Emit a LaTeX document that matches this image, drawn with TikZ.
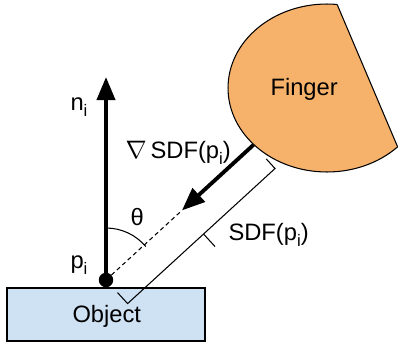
\documentclass[tikz,border=0pt]{standalone}
\usepackage{fontspec}
\setmainfont{Liberation Sans}
\usetikzlibrary{arrows.meta}
\definecolor{fingerorange}{HTML}{F6B26B}
\definecolor{objectblue}{HTML}{CFE2F3}
\newcommand{\idx}{\raisebox{-0.55ex}{\fontsize{9.5}{10}\selectfont i}}

\begin{document}
\begin{tikzpicture}[x=0.02cm, y=0.02cm, >={Triangle[length=0.46cm, width=0.36cm]},
    font=\fontsize{13.5}{16}\selectfont, line width=0.6pt,
    lbl/.style={inner sep=0pt, anchor=base west}]
        \useasboundingbox (0,0) rectangle (399,343);

        % OBJECT
        \draw[fill=objectblue] (7,2) rectangle (205,55);
        \node[lbl] (object) at (72,21) {Object};

        % FINGER
        \begin{scope}
            \clip (328,360) -- (438.5,100) -- (200,100) -- (200,360) -- cycle;
            \draw[fill=fingerorange] (327,255) ellipse [x radius=1.98cm, y radius=1.68cm];
        \end{scope}
        \begin{scope}
            \clip (327,255) ellipse [x radius=1.98cm, y radius=1.68cm];
            \draw (328,360) -- (438.5,100);
        \end{scope}
        \node[lbl] (finger) at (270,248) {Finger};

        % contact point and its points along the axis
        \node[circle, fill=black, inner sep=0pt, minimum size=0.29cm] (pi) at (106,63) {};
        \coordinate (ntip) at (106,266);
        \path (pi.center) ++(42.5:2.06cm) coordinate (gtip);
        \path (pi.center) ++(42.5:4cm) coordinate (surf);
        \path (pi.center) ++(-47.5:0.34cm) coordinate (bstart);

        % Arrows
        \draw[->, line width=2.2pt] (pi.center) -- (ntip);
        \draw[dash pattern=on 2.4pt off 1.8pt] (pi.center) -- (gtip);
        \draw[->, line width=2.2pt] (surf) -- (gtip);
        \draw (pi.center) ++(90:1.04cm) arc[start angle=90, end angle=40, radius=1.04cm];

        % SDF bracket
        \draw (bstart) -- ++(-47.5:0.30cm) -- ++(42.5:4cm) -- ++(132.5:0.26cm);
        \draw (bstart) ++(-47.5:0.30cm) ++(42.5:2.06cm) -- ++(-47.5:0.34cm);

        % Labels
        \node[lbl] (nlabel) at (70,233) {n\idx};
        \node[lbl] (plabel) at (70,75) {p\idx};
        \node[lbl] (theta) at (130,118) {θ};
        \node[lbl] (grad) at (125,185) {$\nabla$\,SDF(p\idx)};
        \node[lbl] (sdf) at (228,103) {SDF(p\idx)};
    \end{tikzpicture}
\end{document}
